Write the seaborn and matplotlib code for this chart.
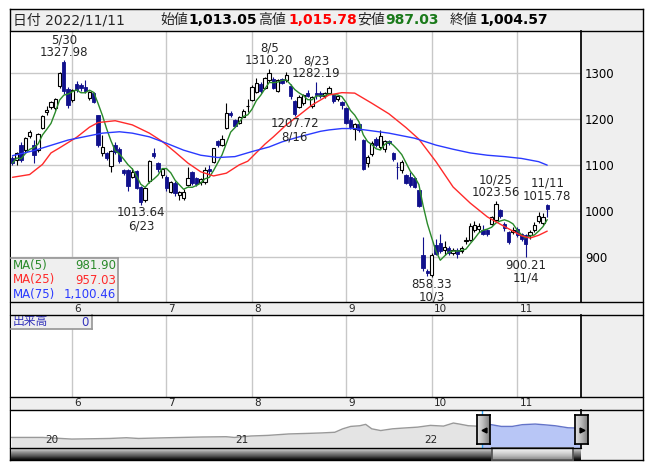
import numpy as np
import pandas as pd
import seaborn as sns
import matplotlib.pyplot as plt
from matplotlib.lines import Line2D

sns.set_theme(style='white')
plt.rcParams['font.family'] = ['DejaVu Sans', 'Noto Sans CJK JP']

# daily candles, TSE trading days 2022-05-12 .. 2022-11-11
holidays = ['2022-07-18', '2022-08-11', '2022-09-19', '2022-09-23', '2022-10-10', '2022-11-03']
dates = pd.bdate_range('2022-05-12', '2022-11-11', freq='C', holidays=holidays)

opens = np.array([
    1116, 1111, 1145, 1133, 1163, 1145, 1133, 1181, 1216, 1227,
    1225, 1272, 1324, 1265, 1241, 1277, 1275, 1270, 1247, 1258,
    1209, 1126, 1127, 1098, 1145, 1135, 1090, 1090, 1075, 1088,
    1052, 1025, 1065, 1126, 1105, 1078, 1075, 1043, 1062, 1035,
    1030, 1058, 1085, 1072, 1063, 1064, 1093, 1108, 1153, 1145,
    1181, 1214, 1198, 1192, 1206, 1228, 1242, 1260, 1277, 1268,
    1285, 1288, 1262, 1287, 1285, 1272, 1240, 1227, 1236, 1257,
    1228, 1258, 1257, 1250, 1257, 1252, 1244, 1238, 1224, 1199,
    1178, 1190, 1155, 1106, 1124, 1158, 1140, 1135, 1152, 1127,
    1097, 1090, 1079, 1075, 1072, 1046, 906, 870, 862, 927,
    932, 916, 920, 909, 917, 913, 936, 938, 960, 962,
    960, 959, 973, 982, 1003, 973, 955, 955, 962, 950,
    948, 948, 959, 980, 975, 1013.05])
highs = np.array([
    1120, 1130, 1150, 1162, 1176, 1155, 1170, 1210, 1230, 1240,
    1247, 1302, 1327.98, 1270, 1266, 1283, 1280, 1285, 1262, 1260,
    1210, 1165, 1130, 1133, 1150, 1140, 1093, 1092, 1095, 1090,
    1055, 1052, 1112, 1138, 1108, 1095, 1078, 1066, 1066, 1045,
    1048, 1097, 1088, 1075, 1072, 1096, 1100, 1138, 1156, 1166,
    1235, 1218, 1200, 1207, 1222, 1245, 1274, 1290, 1282, 1293,
    1310.20, 1292, 1287, 1290, 1303, 1276, 1242, 1252, 1255, 1264,
    1250, 1282.19, 1262, 1260, 1272, 1255, 1253, 1240, 1226, 1202,
    1192, 1193, 1158, 1122, 1152, 1162, 1177, 1155, 1156, 1130,
    1108, 1112, 1082, 1085, 1075, 1048, 944, 874, 910, 940,
    950, 935, 925, 920, 920, 925, 945, 975, 980, 975,
    970, 962, 990, 1023.56, 1006, 976, 958, 965, 966, 953,
    950, 960, 977, 998, 996, 1015.78])
lows = np.array([
    1100, 1100, 1108, 1128, 1160, 1105, 1128, 1178, 1210, 1222,
    1220, 1268, 1255, 1225, 1238, 1260, 1262, 1258, 1243, 1235,
    1140, 1120, 1112, 1085, 1125, 1105, 1080, 1045, 1072, 1048,
    1013.64, 1020, 1062, 1115, 1085, 1072, 1045, 1040, 1033, 1025,
    1025, 1055, 1058, 1055, 1058, 1060, 1080, 1105, 1140, 1143,
    1178, 1205, 1184, 1190, 1204, 1215, 1240, 1258, 1258, 1265,
    1282, 1265, 1260, 1276, 1282, 1245, 1207.72, 1224, 1232, 1248,
    1225, 1245, 1247, 1246, 1255, 1236, 1240, 1222, 1190, 1180,
    1155, 1172, 1090, 1097, 1120, 1140, 1136, 1130, 1145, 1110,
    1071, 1084, 1060, 1052, 1050, 1009, 870, 860, 858.33, 905,
    910, 905, 905, 905, 898, 910, 930, 935, 955, 955,
    948, 946, 970, 978, 985, 958, 930, 950, 945, 935,
    900.21, 940, 955, 975, 970, 987.03])
closes = np.array([
    1105, 1127, 1111, 1159, 1172, 1123, 1168, 1208, 1220, 1237,
    1244, 1300, 1262, 1232, 1263, 1264, 1268, 1262, 1260, 1238,
    1145, 1140, 1115, 1131, 1128, 1110, 1083, 1055, 1086, 1050,
    1020, 1050, 1110, 1120, 1093, 1092, 1050, 1064, 1040, 1043,
    1043, 1073, 1062, 1060, 1070, 1089, 1088, 1137, 1145, 1157,
    1213, 1209, 1186, 1205, 1219, 1230, 1271, 1278, 1262, 1290,
    1300, 1268, 1285, 1280, 1296, 1250, 1212, 1249, 1252, 1251,
    1248, 1253, 1250, 1257, 1268, 1240, 1250, 1232, 1192, 1183,
    1189, 1176, 1092, 1119, 1149, 1144, 1163, 1152, 1148, 1113,
    1096, 1108, 1062, 1057, 1053, 1011, 877, 866, 905, 908,
    913, 923, 909, 916, 907, 920, 938, 968, 971, 968,
    950, 950, 988, 1017, 990, 963, 934, 960, 948, 940,
    928, 956, 971, 990, 988, 1004.57])

# moving averages (day index, value)
ma25_idx = [0, 4, 7, 9, 11, 15, 18, 20, 22, 24, 28, 32, 35, 38, 41, 44, 47, 50, 53, 55,
            59, 61, 64, 67, 70, 74, 77, 80, 84, 88, 92, 95, 99, 103, 107, 111, 115, 119, 121, 123, 125]
ma25_val = [1074, 1080, 1102, 1127, 1138, 1161, 1183, 1193, 1195, 1197, 1188, 1170, 1152, 1129, 1105,
            1086, 1077, 1083, 1101, 1109, 1146, 1162, 1188, 1209, 1231, 1253, 1258, 1257, 1235, 1212,
            1182, 1157, 1108, 1053, 1018, 988, 967, 947, 942, 948, 957.03]
ma75_idx = [0, 5, 13, 21, 25, 28, 32, 36, 40, 44, 48, 52, 56, 60, 63, 67, 72, 74, 77, 80, 84, 88,
            94, 99, 103, 107, 111, 115, 119, 123, 125]
ma75_val = [1121, 1132, 1155, 1170, 1173, 1170, 1162, 1148, 1133, 1122, 1117, 1119, 1130, 1140, 1151,
            1162, 1174, 1177, 1180, 1180, 1175, 1170, 1159, 1144, 1135, 1127, 1122, 1119, 1115, 1108, 1100.46]
ma_labels = ['MA(5)', 'MA(25)', 'MA(75)']
ma_last = ['981.90', '957.03', '1,100.46']

peak_idx = [12, 60, 71, 113, 125]
trough_idx = [30, 66, 98, 120]

# navigator (long history), decimal year vs relative level
nav_t = [2019.832, 2020.000, 2020.153, 2020.353, 2020.442, 2020.505, 2020.658, 2020.837, 2020.968,
         2021.011, 2021.100, 2021.189, 2021.300, 2021.411, 2021.474, 2021.542, 2021.584, 2021.626,
         2021.674, 2021.705, 2021.737, 2021.784, 2021.847, 2021.895, 2021.979, 2022.047, 2022.116,
         2022.168, 2022.200, 2022.247, 2022.289, 2022.321, 2022.368, 2022.421, 2022.479, 2022.532,
         2022.600, 2022.642, 2022.705, 2022.774, 2022.842]
nav_level = [27.8, 27.8, 23.5, 25.1, 27.0, 25.1, 27.0, 28.9, 29.7, 27.8, 31.6, 33.2, 37.0, 38.6, 39.7,
             41.4, 50.5, 56.8, 58.6, 62.2, 50.5, 45.9, 50.5, 52.2, 54.9, 59.5, 57.6, 65.7, 63.0, 58.6,
             57.6, 59.5, 61.4, 56.8, 56.8, 61.4, 63.0, 61.4, 58.6, 53.2, 52.2]
nav_years = [2020, 2021, 2022]
hl_start = 2022.321

navy = '#10108c'
grid_c = '#c8c8c8'
panel_c = '#efefef'

W, H = 653, 470
fig = plt.figure(figsize=(W / 100, H / 100), dpi=100)


def rect(x0, y0, x1, y1):
    return [x0 / W, 1 - y1 / H, (x1 - x0) / W, (y1 - y0) / H]


def hline(y, x0=10, x1=643):
    fig.add_artist(Line2D([x0 / W, x1 / W], [1 - y / H, 1 - y / H], color='black', lw=1))


def bare(a, face):
    a.set_facecolor(face)
    a.set_xticks([])
    a.set_yticks([])
    for s in a.spines.values():
        s.set_visible(False)


bg = fig.add_axes(rect(10, 9, 643, 460))
bare(bg, panel_c)
for s in bg.spines.values():
    s.set_visible(True)
    s.set_color('black')
    s.set_linewidth(1)

# header
hy = 1 - 20 / H
fig.text(13 / W, hy, f'日付 {dates[-1]:%Y/%m/%d}', fontsize=10, va='center')
head = [('始値', opens[-1], 160, 188, 'black'), ('高値', highs[-1], 258, 288, '#ff0000'),
        ('安値', lows[-1], 357, 385, '#1a7a1a'), ('終値', closes[-1], 450, 479, 'black')]
for name, val, xl, xv, c in head:
    fig.text(xl / W, hy, name, fontsize=10, va='center')
    fig.text(xv / W, hy, f'{val:,.2f}', fontsize=10, va='center', fontweight='bold', color=c)

x = np.arange(len(dates))
month_idx = [i for i in range(1, len(dates)) if dates[i].month != dates[i - 1].month]
month_lab = [str(dates[i].month) for i in month_idx]
xlim = (-0.35, 132.9)

# main price panel
ax = fig.add_axes(rect(11, 31, 581, 302))
ax.set_facecolor('white')
ax.set_xlim(*xlim)
ax.set_ylim(803, 1392)
ax.set_xticks(month_idx)
ax.set_yticks([900, 1000, 1100, 1200, 1300])
ax.grid(True, color=grid_c, lw=1)
ax.set_axisbelow(True)
ax.yaxis.tick_right()
ax.tick_params(axis='x', length=0, labelbottom=False)
ax.tick_params(axis='y', length=0, pad=3, labelsize=8.5, labelcolor='black')
for k, s in ax.spines.items():
    s.set_visible(k == 'right')
    s.set_color('black')

up = closes >= opens
lo = np.minimum(opens, closes)
hgt = np.abs(closes - opens)
ax.vlines(x[up], lows[up], highs[up], color='black', lw=0.8, zorder=3)
ax.vlines(x[~up], lows[~up], highs[~up], color=navy, lw=0.8, zorder=3)
ax.bar(x[up], hgt[up], bottom=lo[up], width=0.78, facecolor='white', edgecolor='black', lw=0.8, zorder=4)
ax.bar(x[~up], hgt[~up], bottom=lo[~up], width=0.78, color=navy, edgecolor=navy, lw=0.6, zorder=4)

ma5 = pd.Series(closes).rolling(5, min_periods=1).mean()
sns.lineplot(x=x, y=ma5, ax=ax, color='#2a8a2a', lw=1, zorder=5)
sns.lineplot(x=ma25_idx, y=ma25_val, ax=ax, color='#ff2a2a', lw=1, zorder=5)
sns.lineplot(x=ma75_idx, y=ma75_val, ax=ax, color='#2a3aff', lw=1, zorder=5)
ax.set_xlabel('')
ax.set_ylabel('')

for i in peak_idx:
    d = dates[i]
    ax.annotate(f'{d.month}/{d.day}\n{highs[i]:.2f}', xy=(i, highs[i]), xytext=(0, 1),
                textcoords='offset points', ha='center', va='bottom', fontsize=8.5,
                linespacing=1.0, zorder=6)
for i in trough_idx:
    d = dates[i]
    ax.annotate(f'{lows[i]:.2f}\n{d.month}/{d.day}', xy=(i, lows[i]), xytext=(0, -1),
                textcoords='offset points', ha='center', va='top', fontsize=8.5,
                linespacing=1.0, zorder=6)

# MA legend box
lg = fig.add_axes(rect(11, 258, 118, 302))
bare(lg, panel_c)
lg.spines['top'].set_visible(True)
lg.spines['right'].set_visible(True)
lg.spines['top'].set_color('#999999')
lg.spines['right'].set_color('#999999')
for r, (lab, val, c) in enumerate(zip(ma_labels, ma_last, ['#2a8a2a', '#ff2a2a', '#2a3aff'])):
    yy = 1 - (r + 0.5) / 3
    lg.text(0.02, yy, lab, color=c, fontsize=8.5, va='center', ha='left', transform=lg.transAxes)
    lg.text(0.98, yy, val, color=c, fontsize=8.5, va='center', ha='right', transform=lg.transAxes)

# month strips
for y0, y1 in [(302, 315), (397, 410)]:
    st = fig.add_axes(rect(11, y0, 581, y1))
    bare(st, panel_c)
    st.set_xlim(*xlim)
    for i, lab in zip(month_idx, month_lab):
        st.annotate(lab, xy=(i, 0.5), xycoords=('data', 'axes fraction'), xytext=(1.5, 0),
                    textcoords='offset points', ha='left', va='center', fontsize=7.5)

# volume panel (empty)
vax = fig.add_axes(rect(11, 315, 581, 397))
vax.set_facecolor('white')
vax.set_xlim(*xlim)
vax.set_ylim(0, 1)
vax.set_xticks(month_idx)
vax.set_yticks([])
vax.grid(True, axis='x', color=grid_c, lw=1)
vax.tick_params(axis='x', length=0, labelbottom=False)
for k, s in vax.spines.items():
    s.set_visible(k == 'right')
    s.set_color('black')
vb = fig.add_axes(rect(10.5, 315, 92, 329))
bare(vb, panel_c)
for k in ['right', 'bottom']:
    vb.spines[k].set_visible(True)
    vb.spines[k].set_color('#999999')
vb.text(0.03, 0.5, '出来高', color='#3333bb', fontsize=8.5, va='center', transform=vb.transAxes)
vb.text(0.96, 0.5, '0', color='#3333bb', fontsize=8.5, va='center', ha='right', transform=vb.transAxes)

# navigator
nt = np.array(nav_t)
nl = np.array(nav_level)
nav = fig.add_axes(rect(11, 410, 581, 448))
nav.set_facecolor('white')
nav.set_xlim(nt[0], nt[-1])
nav.set_ylim(0, 100)
nav.set_xticks([])
nav.set_yticks([])
for k, s in nav.spines.items():
    s.set_visible(k == 'right')
    s.set_color('black')
m1 = nt <= hl_start
m2 = nt >= hl_start
nav.fill_between(nt[m1], 0, nl[m1], color='#e4e4e4', lw=0)
nav.fill_between(nt[m2], 0, nl[m2], color='#b8c6f6', lw=0)
sns.lineplot(x=nt[m1], y=nl[m1], ax=nav, color='#999999', lw=1)
sns.lineplot(x=nt[m2], y=nl[m2], ax=nav, color='#6474c8', lw=1)
nav.set_xlabel('')
nav.set_ylabel('')
nav.axvline(hl_start, color='#33aaff', lw=1)
for yr in nav_years:
    nav.annotate(str(yr)[2:], xy=(yr, 0.2), xycoords=('data', 'axes fraction'), xytext=(2, 0),
                 textcoords='offset points', ha='left', va='center', fontsize=7.5)

grad_h = np.linspace(0, 1, 16).reshape(1, -1)
for (x0, x1), mk in [((477, 490), '<'), ((575, 588), '>')]:
    hd = fig.add_axes(rect(x0, 415, x1, 444))
    hd.imshow(grad_h, cmap='Greys', vmin=-0.6, vmax=2.2, aspect='auto', extent=(0, 1, 0, 1))
    hd.plot([0.5], [0.5], marker=mk, color='black', ms=3.5)
    hd.set_xlim(0, 1)
    hd.set_ylim(0, 1)
    hd.set_xticks([])
    hd.set_yticks([])
    for s in hd.spines.values():
        s.set_color('black')

# scrollbar
grad_v = np.linspace(0, 1, 16).reshape(-1, 1)
sb = fig.add_axes(rect(11, 448, 581, 460))
sb.imshow(grad_v, cmap='Greys', vmin=-0.4, vmax=1.05, aspect='auto', extent=(0, 1, 0, 1))
sb.set_xticks([])
sb.set_yticks([])
for s in sb.spines.values():
    s.set_visible(False)
th = fig.add_axes(rect(492, 448, 573, 460))
th.imshow(grad_v, cmap='Greys', vmin=-0.2, vmax=2.0, aspect='auto', extent=(0, 1, 0, 1))
th.set_xticks([])
th.set_yticks([])
for s in th.spines.values():
    s.set_color('#555555')

for y in [31, 302, 315, 397, 410]:
    hline(y)
hline(448, 10, 581)

fig.savefig('out.png', dpi=100)
